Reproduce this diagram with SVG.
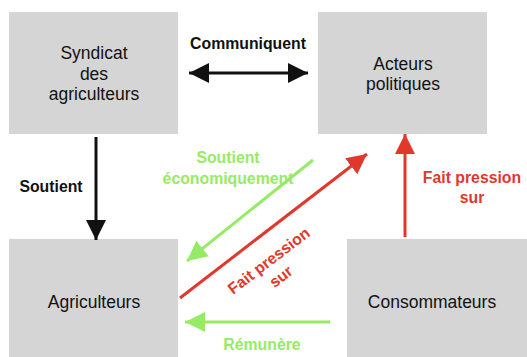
<svg xmlns="http://www.w3.org/2000/svg" width="527" height="357" viewBox="0 0 527 357">
<style>
.box{fill:#d5d5d5}
.nt{font-family:"Liberation Sans",Arial,sans-serif;font-size:17.5px;fill:#111;text-anchor:middle}
.lb{font-family:"Liberation Sans",Arial,sans-serif;font-size:15.8px;font-weight:bold;text-anchor:middle}
.k{fill:#111}.g{fill:#97ea66}.r{fill:#e0392b}
.ck{stroke:#111;stroke-width:3;fill:none}
.cg{stroke:#97ea66;stroke-width:3;fill:none}
.cr{stroke:#e0392b;stroke-width:3;fill:none}
</style>
<defs>
<marker id="ak" markerUnits="userSpaceOnUse" markerWidth="22" markerHeight="22" refX="20" refY="10" orient="auto-start-reverse"><path d="M0,0 L20,10 L0,20 z" fill="#111"/></marker>
<marker id="ag" markerUnits="userSpaceOnUse" markerWidth="22" markerHeight="22" refX="20" refY="10" orient="auto-start-reverse"><path d="M0,0 L20,10 L0,20 z" fill="#97ea66"/></marker>
<marker id="ar" markerUnits="userSpaceOnUse" markerWidth="22" markerHeight="22" refX="20" refY="10" orient="auto-start-reverse"><path d="M0,0 L20,10 L0,20 z" fill="#e0392b"/></marker>
</defs>
<rect width="527" height="357" fill="#fff"/>
<g id="syndicat"><rect class="box" x="9" y="12" width="169" height="122"/>
<text class="nt" x="94" y="59">Syndicat</text><text class="nt" x="94" y="80">des</text><text class="nt" x="94" y="100">agriculteurs</text></g>
<g id="acteurs"><rect class="box" x="318" y="12" width="169" height="122"/>
<text class="nt" x="403" y="70">Acteurs</text><text class="nt" x="403" y="90">politiques</text></g>
<g id="agriculteurs"><rect class="box" x="9" y="239" width="169" height="118"/>
<text class="nt" x="94" y="308">Agriculteurs</text></g>
<g id="consommateurs"><rect class="box" x="347" y="239" width="180" height="118"/>
<text class="nt" x="432" y="308">Consommateurs</text></g>
<g id="connectors">
<line class="ck" x1="189" y1="73" x2="308" y2="73" marker-start="url(#ak)" marker-end="url(#ak)"/>
<text class="lb k" x="248" y="49">Communiquent</text>
<line class="ck" x1="96" y1="137" x2="96" y2="240" marker-end="url(#ak)"/>
<text class="lb k" x="51" y="192">Soutient</text>
<line class="cg" x1="313" y1="160" x2="187" y2="261" marker-end="url(#ag)"/>
<text class="lb g" x="228" y="163">Soutient</text><text class="lb g" x="228" y="184">économiquement</text>
<line class="cr" x1="180" y1="298" x2="367" y2="154" marker-end="url(#ar)"/>
<g transform="translate(269,261) rotate(-37.5)"><text class="lb r" x="0" y="5">Fait pression</text><text class="lb r" x="0" y="25">sur</text></g>
<line class="cr" x1="405" y1="237" x2="405" y2="134" marker-end="url(#ar)"/>
<text class="lb r" x="472" y="183">Fait pression</text><text class="lb r" x="472" y="203">sur</text>
<line class="cg" x1="330" y1="322" x2="185" y2="322" marker-end="url(#ag)"/>
<text class="lb g" x="262" y="350">Rémunère</text>
</g>
</svg>
